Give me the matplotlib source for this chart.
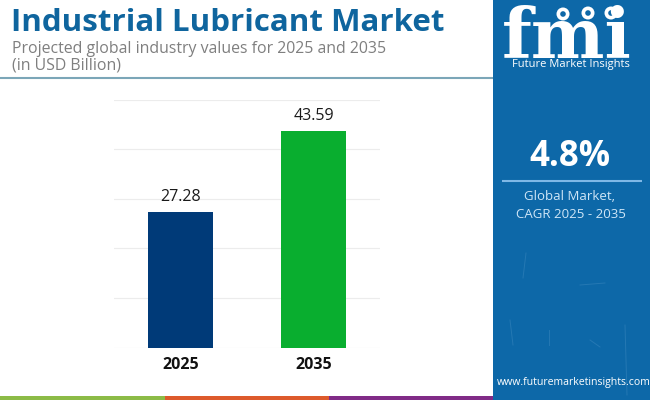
import matplotlib
matplotlib.use('Agg')
import matplotlib.pyplot as plt
from matplotlib.patches import Rectangle, Circle

# chart data
years = ['2025', '2035']
values = [27.28, 43.59]
value_labels = ['27.28', '43.59']
bar_colors = ['#003a78', '#09ae2f']
grid_ticks = [0, 10, 20, 30, 40, 50]

W, H = 650, 400
plt.rcParams['font.family'] = ['Open Sans', 'DejaVu Sans']

fig = plt.figure(figsize=(6.5, 4), dpi=100, facecolor='white')

# overlay in pixel coords for header, side panel and footer
bg = fig.add_axes([0, 0, 1, 1])
bg.set_xlim(0, W)
bg.set_ylim(H, 0)
bg.axis('off')

# footer strip
bg.add_patch(Rectangle((0, 396), 165, 4, color='#8cbb47', lw=0))
bg.add_patch(Rectangle((165, 396), 164, 4, color='#dd5a2c', lw=0))
bg.add_patch(Rectangle((329, 396), 164, 4, color='#812b87', lw=0))

# header
bg.text(11, 23, 'Industrial Lubricant Market', fontsize=22.5, fontweight='bold',
        color='#0f659e', va='center', ha='left')
bg.text(12, 49, 'Projected global industry values for 2025 and 2035', fontsize=11.4,
        color='#7f7f7f', va='center', ha='left')
bg.text(12, 66, '(in USD Billion)', fontsize=11.4, color='#7f7f7f', va='center', ha='left')
bg.plot([0, 493], [78, 78], color='#7ba6b8', lw=1.5, solid_capstyle='butt')

# side panel
bg.add_patch(Rectangle((493, 0), 157, 400, color='#0d68a8', lw=0))
for x0, y0, x1, y1 in [(526, 253, 523, 278), (549, 330, 549, 345), (625, 325, 627, 395),
                       (580, 285, 605, 283), (590, 340, 600, 347), (510, 320, 513, 345)]:
    bg.plot([x0, x1], [y0, y1], color='#2f7fb8', lw=0.7, alpha=0.7)

# logo
bg.text(567, 39, 'fmi', fontsize=50, fontweight='bold', family='DejaVu Serif',
        color='white', ha='center', va='center')
for y in range(24, 58, 4):
    bg.plot([515, 625], [y, y], color='#0d68a8', lw=0.6)
for cx, cy in [(563, 14), (588, 13), (611, 13)]:
    bg.add_patch(Circle((cx, cy), 6.5, color='white', lw=0))
    bg.add_patch(Circle((cx, cy), 2.8, color='#0d68a8', lw=0))
bg.text(571, 64, 'Future Market Insights', fontsize=8, color='white', ha='center', va='center')

bg.text(570, 157, '4.8%', fontsize=25, fontweight='bold', color='white', ha='center', va='center')
bg.plot([502, 642], [181, 181], color='#7fb8e6', lw=1.5, solid_capstyle='butt')
bg.text(570, 197, 'Global Market,', fontsize=9.5, color='#cfe6f7', ha='center', va='center')
bg.text(571, 214, 'CAGR 2025 - 2035', fontsize=9.5, color='#cfe6f7', ha='center', va='center')
bg.text(574, 383, 'www.futuremarketinsights.com', fontsize=7.6, color='white', ha='center', va='center')

# bar chart, axes box matches the gridline extent
ax = fig.add_axes([114 / W, 1 - 347.5 / H, 266 / W, 248 / H])
ax.patch.set_alpha(0)
ax.bar(range(len(years)), values, width=0.49, color=bar_colors, zorder=3)
ax.set_xlim(-0.5, 1.5)
ax.set_ylim(0, 50)
ax.set_yticks(grid_ticks)
ax.set_yticklabels([])
ax.grid(axis='y', color='#ececec', lw=0.8, zorder=0)
ax.set_xticks(range(len(years)))
ax.set_xticklabels(years, fontsize=11.5, fontweight='bold', color='#111111')
ax.tick_params(axis='both', length=0, pad=7)
for s in ax.spines.values():
    s.set_visible(False)
for i, v in enumerate(values):
    ax.text(i, v + 1.5, value_labels[i], ha='center', va='bottom', fontsize=11.5, color='#1a1a1a')

fig.savefig('out.png', dpi=100)
